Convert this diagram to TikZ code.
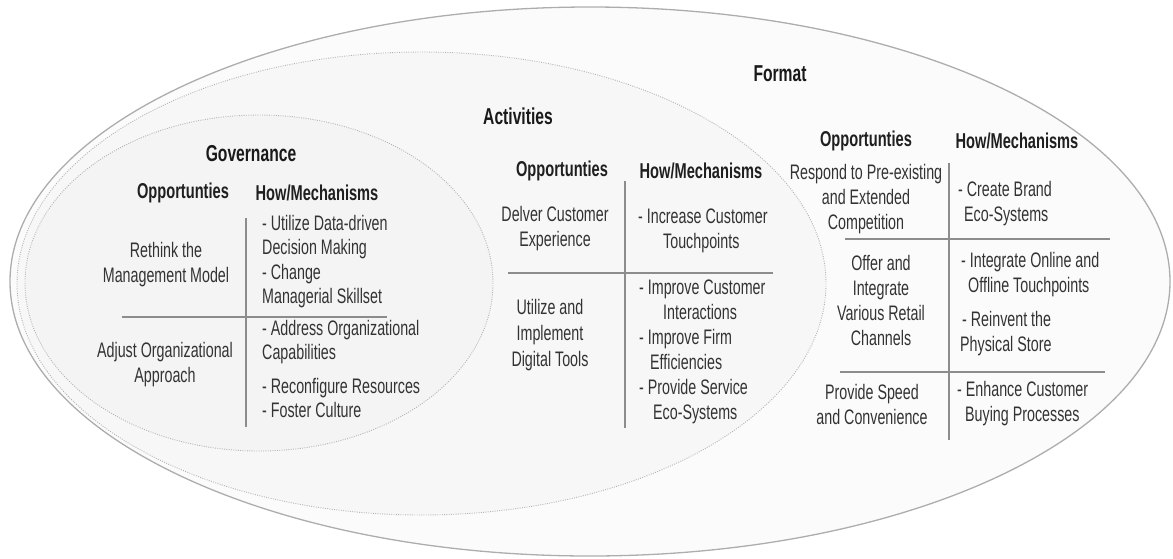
\documentclass[tikz,border=0pt]{standalone}
\usepackage{fontspec}
\setmainfont{Liberation Sans}[FakeStretch=0.68]
\begin{document}
\begin{tikzpicture}[x=1pt,y=-1pt,
  ring/.style={draw=black!32, line width=1.3pt},
  dotring/.style={draw=black!30, line width=0.9pt, dash pattern=on 0.9pt off 1.4pt},
  ttl/.style={font=\fontsize{23}{25}\selectfont\bfseries, text=black!90, inner sep=0pt},
  hdr/.style={font=\fontsize{21.5}{24}\selectfont\bfseries, text=black!88, inner sep=0pt},
  cell/.style={font=\fontsize{21}{25}\selectfont, text=black!80, align=center, inner sep=0pt},
  cellw/.style={cell, align=left, anchor=west},
  divider/.style={draw=black!45, line width=1.2pt}
]
\useasboundingbox (0,0) rectangle (1173,558);
% regions
\path[ring, fill=black!1.5] (590,281.5) ellipse [x radius=580, y radius=274.5];
\path[dotring, fill=black!3] (421.5,283.5) ellipse [x radius=404.5, y radius=231.5];
\path[dotring, fill=black!4.5] (259,283) ellipse [x radius=234, y radius=168];

% ---------- Governance ----------
\node[ttl] (gt) at (251,154) {Governance};
\node[hdr] (gop) at (183,193) {Opportunties};
\node[hdr] (ghow) at (317,193) {How/Mechanisms};
\node[cell] (g1l) at (166,265) {Rethink the\\Management Model};
\node[cellw, font=\fontsize{21}{24.3}\selectfont] (g1r) at (262,261.5) {- Utilize Data-driven\\Decision Making\\- Change\\Managerial Skillset};
\node[cell] (g2l) at (165,364.5) {Adjust Organizational\\Approach};
\node[cellw, font=\fontsize{21}{24}\selectfont] (g2r) at (262,369) {- Address Organizational\\Capabilities\\[10pt]- Reconfigure Resources\\- Foster Culture};
\coordinate (gvt) at (246,218); \coordinate (gvb) at (246,427);
\coordinate (ghl) at (122,317); \coordinate (ghr) at (387,317);
\draw[divider] (gvt) -- (gvb);
\draw[divider] (ghl) -- (ghr);

% ---------- Activities ----------
\node[ttl] (at) at (518,116) {Activities};
\node[hdr] (aop) at (562,171) {Opportunties};
\node[hdr] (ahow) at (701,171) {How/Mechanisms};
\node[cell] (a1l) at (555,228.5) {Delver Customer\\Experience};
\node[cellw] (a1r) at (638,230.5) {- Increase Customer\\\hspace*{25pt}Touchpoints};
\node[cell, font=\fontsize{21}{26}\selectfont] (a2l) at (550,335) {Utilize and\\Implement\\Digital Tools};
\node[cellw] (a2r) at (639,352) {- Improve Customer\\\hspace*{24pt}Interactions\\- Improve Firm\\\hspace*{11pt}Efficiencies\\- Provide Service\\\hspace*{14pt}Eco-Systems};
\coordinate (avt) at (625,181); \coordinate (avb) at (625,428);
\coordinate (ahl) at (508,273); \coordinate (ahr) at (773,273);
\draw[divider] (avt) -- (avb);
\draw[divider] (ahl) -- (ahr);

% ---------- Format ----------
\node[ttl] (ft) at (780,74) {Format};
\node[hdr] (fop) at (866,141) {Opportunties};
\node[hdr] (fhow) at (1017,141) {How/Mechanisms};
\node[cell] (f1l) at (866,199) {Respond to Pre-existing\\and Extended\\Competition};
\node[cellw] (f1r) at (958,203.5) {- Create Brand\\\hspace*{6pt}Eco-Systems};
\node[cell] (f2l) at (881,300) {Offer and\\Integrate\\Various Retail\\Channels};
\node[cellw] (f2r) at (960,304) {\hspace*{1pt}- Integrate Online and\\\hspace*{8pt}Offline Touchpoints\\[9pt]\hspace*{2pt}- Reinvent the\\Physical Store};
\node[cell] (f3l) at (872,404) {Provide Speed\\and Convenience};
\node[cellw] (f3r) at (957,404) {- Enhance Customer\\\hspace*{8pt}Buying Processes};
\coordinate (fvt) at (949,163); \coordinate (fvb) at (949,440);
\coordinate (fh1l) at (845,239); \coordinate (fh1r) at (1110,239);
\coordinate (fh2l) at (840,372); \coordinate (fh2r) at (1105,372);
\draw[divider] (fvt) -- (fvb);
\draw[divider] (fh1l) -- (fh1r);
\draw[divider] (fh2l) -- (fh2r);
\end{tikzpicture}
\end{document}
